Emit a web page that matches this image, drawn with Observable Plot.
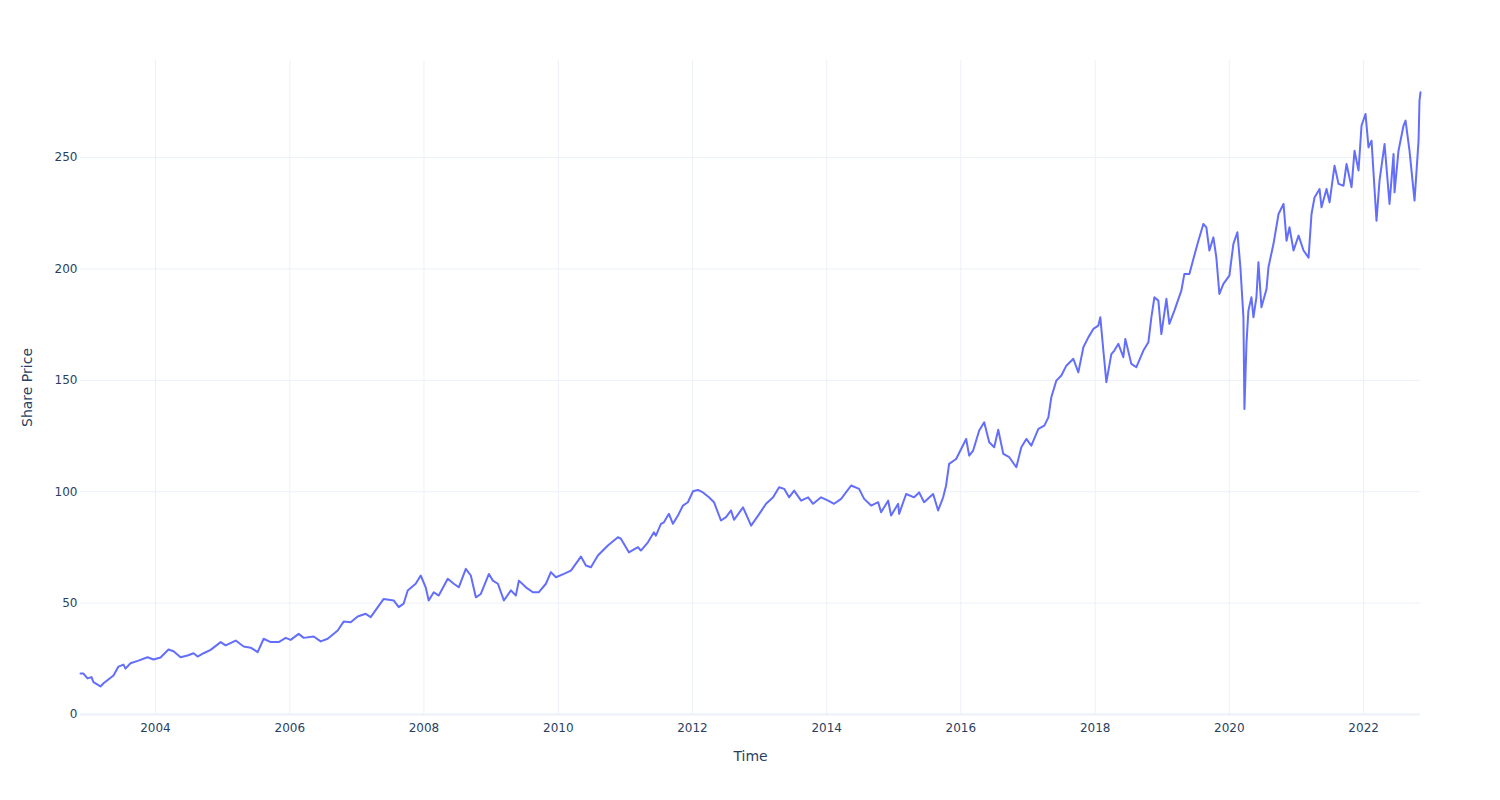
<!DOCTYPE html>
<html>
<head>
<meta charset="utf-8">
<script src="https://cdn.jsdelivr.net/npm/d3@7"></script>
<script src="https://cdn.jsdelivr.net/npm/@observablehq/plot@0.6"></script>
<style>
  html, body { margin: 0; padding: 0; background: #fff; }
  #chart svg { display: block; }
</style>
</head>
<body>
<div id="chart"></div>
<script>
// Decimal-year time stamps
const years = [
  2002.882, 2002.926, 2002.986, 2003.046, 2003.075, 2003.180, 2003.225, 2003.374, 2003.448, 2003.523,
  2003.553, 2003.627, 2003.746, 2003.881, 2003.970, 2004.075, 2004.194, 2004.268, 2004.373, 2004.477,
  2004.567, 2004.626, 2004.716, 2004.820, 2004.969, 2005.044, 2005.193, 2005.312, 2005.417, 2005.521,
  2005.610, 2005.715, 2005.834, 2005.939, 2006.013, 2006.132, 2006.207, 2006.356, 2006.460, 2006.565,
  2006.714, 2006.803, 2006.908, 2007.012, 2007.132, 2007.206, 2007.400, 2007.549, 2007.624, 2007.698,
  2007.758, 2007.877, 2007.952, 2008.026, 2008.071, 2008.146, 2008.220, 2008.354, 2008.444, 2008.518,
  2008.623, 2008.697, 2008.772, 2008.846, 2008.966, 2009.025, 2009.100, 2009.189, 2009.294, 2009.368,
  2009.413, 2009.518, 2009.622, 2009.711, 2009.816, 2009.890, 2009.965, 2010.084, 2010.189, 2010.338,
  2010.412, 2010.487, 2010.591, 2010.740, 2010.889, 2010.934, 2011.053, 2011.188, 2011.232, 2011.337,
  2011.426, 2011.456, 2011.531, 2011.575, 2011.650, 2011.710, 2011.784, 2011.859, 2011.933, 2012.008,
  2012.082, 2012.157, 2012.246, 2012.321, 2012.425, 2012.500, 2012.575, 2012.619, 2012.753, 2012.873,
  2012.977, 2013.096, 2013.201, 2013.290, 2013.365, 2013.439, 2013.514, 2013.618, 2013.723, 2013.797,
  2013.916, 2014.021, 2014.110, 2014.215, 2014.364, 2014.483, 2014.558, 2014.662, 2014.767, 2014.811,
  2014.916, 2014.960, 2015.065, 2015.080, 2015.184, 2015.303, 2015.378, 2015.452, 2015.587, 2015.661,
  2015.736, 2015.780, 2015.825, 2015.930, 2016.004, 2016.079, 2016.124, 2016.183, 2016.273, 2016.347,
  2016.422, 2016.496, 2016.556, 2016.631, 2016.720, 2016.825, 2016.899, 2016.974, 2017.048, 2017.153,
  2017.242, 2017.302, 2017.346, 2017.421, 2017.496, 2017.570, 2017.674, 2017.749, 2017.824, 2017.898,
  2017.973, 2018.047, 2018.077, 2018.122, 2018.167, 2018.241, 2018.286, 2018.346, 2018.420, 2018.450,
  2018.539, 2018.614, 2018.719, 2018.793, 2018.838, 2018.883, 2018.942, 2018.987, 2019.062, 2019.106,
  2019.181, 2019.285, 2019.330, 2019.405, 2019.464, 2019.539, 2019.613, 2019.658, 2019.703, 2019.763,
  2019.807, 2019.852, 2019.912, 2020.001, 2020.061, 2020.120, 2020.165, 2020.210, 2020.225, 2020.255,
  2020.284, 2020.329, 2020.359, 2020.403, 2020.433, 2020.478, 2020.553, 2020.582, 2020.657, 2020.732,
  2020.806, 2020.851, 2020.895, 2020.955, 2021.030, 2021.104, 2021.179, 2021.223, 2021.268, 2021.343,
  2021.372, 2021.447, 2021.492, 2021.566, 2021.626, 2021.700, 2021.745, 2021.820, 2021.864, 2021.924,
  2021.969, 2022.028, 2022.073, 2022.118, 2022.192, 2022.237, 2022.312, 2022.386, 2022.446, 2022.461,
  2022.520, 2022.595, 2022.625, 2022.684, 2022.759, 2022.819, 2022.833, 2022.848
];

// Share prices
const prices = [
  18.4, 18.4, 16.2, 16.8, 14.5, 12.6, 14.0, 17.5, 21.5, 22.4,
  20.6, 23.0, 24.2, 25.7, 24.7, 25.6, 29.2, 28.4, 25.7, 26.5,
  27.5, 26.0, 27.5, 29.0, 32.5, 31.0, 33.2, 30.5, 30.0, 28.0,
  34.0, 32.5, 32.5, 34.4, 33.5, 36.2, 34.4, 35.0, 32.8, 34.0,
  37.7, 41.7, 41.4, 44.0, 45.2, 43.7, 51.9, 51.2, 48.2, 49.8,
  55.7, 58.7, 62.4, 57.1, 51.2, 54.9, 53.4, 60.9, 58.7, 57.1,
  65.4, 62.4, 52.6, 54.1, 63.1, 60.1, 58.7, 51.2, 55.7, 53.4,
  60.1, 57.1, 54.9, 54.9, 58.7, 63.9, 61.6, 63.1, 64.6, 70.9,
  66.9, 66.1, 71.4, 75.9, 79.6, 78.9, 72.8, 75.1, 73.6, 77.3,
  81.8, 80.3, 85.6, 86.3, 90.1, 85.6, 89.3, 93.8, 95.3, 100.2,
  100.8, 99.7, 97.5, 95.3, 87.1, 88.6, 91.6, 87.4, 93.0, 84.8,
  89.3, 94.6, 97.5, 102.0, 101.3, 97.5, 100.5, 96.0, 97.5, 94.6,
  97.5, 96.0, 94.6, 96.8, 102.8, 101.3, 96.8, 93.8, 95.3, 90.8,
  96.0, 89.3, 94.6, 90.1, 99.0, 97.5, 99.7, 95.3, 99.0, 91.6,
  97.5, 102.8, 112.5, 114.7, 119.2, 123.7, 116.2, 118.5, 127.5, 131.2,
  122.2, 120.0, 127.8, 117.0, 115.5, 111.0, 120.0, 123.7, 120.7, 128.2,
  129.7, 133.4, 142.4, 149.9, 152.2, 156.6, 159.7, 153.6, 164.9, 169.3,
  173.1, 174.6, 178.3, 163.4, 149.2, 161.8, 163.4, 166.4, 160.4, 168.6,
  157.4, 155.9, 163.4, 167.1, 178.3, 187.3, 185.8, 170.8, 186.6, 175.4,
  181.3, 190.3, 197.8, 197.8, 204.5, 212.7, 220.2, 218.7, 208.3, 214.2,
  205.1, 188.8, 193.3, 197.0, 211.3, 216.5, 200.8, 178.3, 137.2, 166.4,
  181.3, 187.3, 178.3, 187.3, 203.0, 182.8, 191.0, 200.8, 211.3, 224.7,
  229.2, 212.7, 218.7, 208.3, 215.0, 208.3, 205.1, 224.7, 232.1, 235.9,
  227.7, 235.9, 229.9, 246.4, 238.2, 237.4, 247.1, 236.7, 253.1, 244.2,
  264.4, 269.6, 254.6, 257.6, 221.7, 239.7, 256.1, 229.2, 251.6, 234.4,
  253.1, 264.4, 266.6, 253.1, 230.7, 257.6, 275.6, 279.3
];

const yTicks = [0, 50, 100, 150, 200, 250];
const xTickYears = [2004, 2006, 2008, 2010, 2012, 2014, 2016, 2018, 2020, 2022];
const xTitle = "Time";
const yTitle = "Share Price";

function decToDate(t) {
  const y0 = Math.floor(t);
  const a = Date.UTC(y0, 0, 1), b = Date.UTC(y0 + 1, 0, 1);
  return new Date(a + (t - y0) * (b - a));
}

const data = years.map((t, i) => ({date: decToDate(t), price: prices[i]}));
const xTicks = xTickYears.map(y => new Date(Date.UTC(y, 0, 1)));

const gridColor = "#ebf0f8";
const textColor = "#2a3f5f";

const chart = Plot.plot({
  width: 1500,
  height: 800,
  marginLeft: 80,
  marginRight: 80,
  marginTop: 60,
  marginBottom: 86,
  style: {fontFamily: "DejaVu Sans, sans-serif", fontSize: "12px", color: textColor, background: "#fff"},
  x: {type: "utc", domain: d3.extent(data, d => d.date), ticks: xTicks, tickFormat: d3.utcFormat("%Y"), label: null},
  y: {domain: [0, 293.6], ticks: yTicks, label: null},
  marks: [
    Plot.gridX(xTicks, {stroke: gridColor, strokeOpacity: 1, strokeWidth: 1}),
    Plot.gridY(yTicks, {stroke: gridColor, strokeOpacity: 1, strokeWidth: 1}),
    Plot.ruleY([0], {stroke: gridColor, strokeWidth: 2}),
    Plot.axisX(xTicks, {tickSize: 0, tickPadding: 9, tickFormat: d3.utcFormat("%Y"), fill: textColor, fontSize: 12, label: null}),
    Plot.axisY(yTicks, {tickSize: 0, tickPadding: 3, fill: textColor, fontSize: 12, label: null}),
    Plot.lineY(data, {x: "date", y: "price", stroke: "#636efa", strokeWidth: 2, strokeLinejoin: "round"}),
    Plot.text([xTitle], {frameAnchor: "bottom", dy: 42, lineAnchor: "middle", textAnchor: "middle", fontSize: 14, fill: textColor}),
    Plot.text([yTitle], {frameAnchor: "left", dx: -53, rotate: -90, lineAnchor: "middle", textAnchor: "middle", fontSize: 14, fill: textColor})
  ]
});

document.getElementById("chart").appendChild(chart);
</script>
</body>
</html>
